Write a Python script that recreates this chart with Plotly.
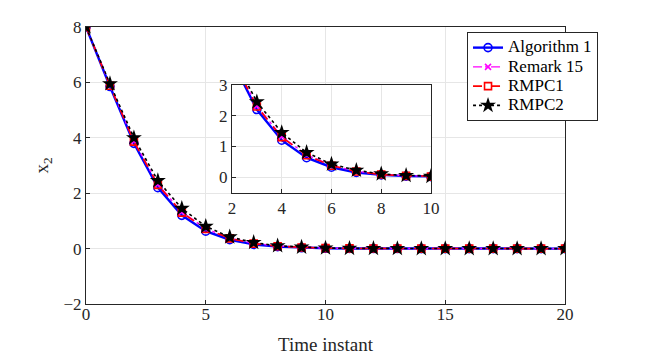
import plotly.graph_objects as go

t = list(range(0, 21))
alg1 = [8, 5.85, 3.8, 2.2, 1.2, 0.63, 0.32, 0.15, 0.07, 0.03, 0.012, 0.005, 0.002, 0.001, 0, 0, 0, 0, 0, 0, 0]
remark15 = [8, 5.9, 3.88, 2.32, 1.32, 0.72, 0.38, 0.19, 0.09, 0.04, 0.016, 0.007, 0.003, 0.001, 0, 0, 0, 0, 0, 0, 0]
rmpc1 = [8, 5.88, 3.86, 2.3, 1.3, 0.71, 0.37, 0.18, 0.085, 0.038, 0.015, 0.006, 0.002, 0.001, 0, 0, 0, 0, 0, 0, 0]
rmpc2 = [8, 5.95, 4.0, 2.45, 1.45, 0.8, 0.42, 0.22, 0.1, 0.05, 0.02, 0.008, 0.003, 0.001, 0, 0, 0, 0, 0, 0, 0]
names = ["Algorithm 1", "Remark 15", "RMPC1", "RMPC2"]

serif = "Liberation Serif"

styles = [
    (dict(color="#0000ff", width=2.4, dash="solid"),
     dict(symbol="circle-open", size=8, color="#0000ff", line=dict(width=1.6, color="#0000ff"))),
    (dict(color="#ff00ff", width=1.4, dash="dashdot"),
     dict(symbol="x-thin-open", size=6, color="#ff00ff", line=dict(width=1.6, color="#ff00ff"))),
    (dict(color="#ff0000", width=1.6, dash="dash"),
     dict(symbol="square-open", size=7, color="#ff0000", line=dict(width=1.6, color="#ff0000"))),
    (dict(color="#000000", width=1.6, dash="dot"),
     dict(symbol="star", size=12, color="#000000")),
]
values = [alg1, remark15, rmpc1, rmpc2]

fig = go.Figure()
for name, y, (ln, mk) in zip(names, values, styles):
    fig.add_trace(go.Scatter(x=t, y=y, mode="lines+markers", line=ln, marker=mk,
                             name='<span style="font-size:17px">' + name + '</span>',
                             xaxis="x", yaxis="y"))
# inset
for name, y, (ln, mk) in zip(names, values, styles):
    fig.add_trace(go.Scatter(x=t, y=y, name=name, mode="lines+markers",
                             line=ln, marker=mk, xaxis="x2", yaxis="y2",
                             showlegend=False))

ax = dict(showline=True, linecolor="#262626", linewidth=1, mirror=True,
          ticks="inside", ticklen=4, tickcolor="#262626",
          showgrid=True, gridcolor="#e6e6e6", zeroline=False, automargin=False,
          tickfont=dict(family=serif, size=17, color="#262626"))

fig.update_layout(
    width=664, height=357,
    margin=dict(l=0, r=0, t=0, b=0, autoexpand=False),
    paper_bgcolor="white", plot_bgcolor="white",
    font=dict(family=serif, size=17, color="#262626"),
    xaxis=dict(ax, domain=[0.1175, 0.8389], range=[0, 20], dtick=5, anchor="y",
               ticklabelstandoff=-5,
               title=dict(text="Time instant", font=dict(family=serif, size=19), standoff=14)),
    yaxis=dict(ax, domain=[0.1709, 0.9468], range=[-2, 8], dtick=2, anchor="x",
               title=dict(text="x<sub>2</sub>", font=dict(family=serif, size=19), standoff=9)),
    xaxis2=dict(ax, domain=[0.3373, 0.6370], range=[2, 10], dtick=2, anchor="y2"),
    yaxis2=dict(ax, domain=[0.4818, 0.7843], range=[-0.52, 3], dtick=1, anchor="x2"),
    legend=dict(x=0.6913, y=0.9328, xanchor="left", yanchor="top",
                bgcolor="white", bordercolor="#262626", borderwidth=1,
                font=dict(family=serif, size=12.5, color="#000000"),
                tracegroupgap=0, itemwidth=30),
    showlegend=True,
)

fig.write_html("out.html")
